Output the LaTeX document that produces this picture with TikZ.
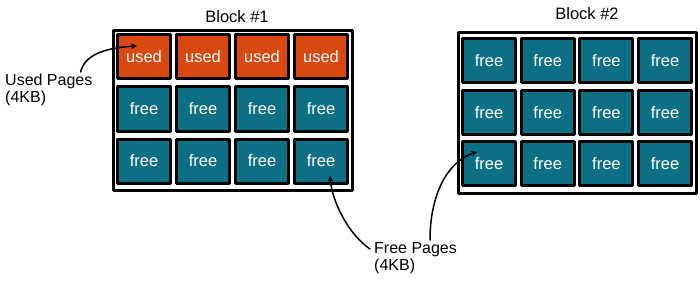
\documentclass[tikz,border=0pt]{standalone}
\usepackage{fontspec}
\setmainfont{Liberation Sans}
\definecolor{usedcol}{HTML}{D9480F}
\definecolor{freecol}{HTML}{0C7085}
\tikzset{
  page/.style={draw=black, line width=3pt, fill=freecol, text=white, minimum width=53pt, minimum height=44pt, font=\fontsize{16.5}{18}\selectfont},
  usedpage/.style={page, fill=usedcol},
  blockframe/.style={draw=black, line width=3pt, fill=white},
  note/.style={align=left, inner sep=0pt, font=\fontsize{16}{17}\selectfont},
}
\begin{document}
\begin{tikzpicture}[x=1pt, y=-1pt, >=stealth, line cap=round, line join=round]
  \useasboundingbox (0,0) rectangle (700,286);

  % Block #1
  \node[font=\fontsize{16.5}{18}\selectfont] (title1) at (237,17) {Block \#1};
  \draw[blockframe] (113,31) rectangle (352,190);
  \foreach \c in {1,...,4} {
    \node[usedpage] (b1-1-\c) at ({144+59*(\c-1)},57) {used};
    \foreach \r in {2,3} {
      \node[page] (b1-\r-\c) at ({144+59*(\c-1)},{57+52*(\r-1)}) {free};
    }
  }

  % Block #2
  \node[font=\fontsize{16.5}{18}\selectfont] (title2) at (587,14) {Block \#2};
  \draw[blockframe] (458,33) rectangle (696,193);
  \foreach \c in {1,...,4} {
    \foreach \r in {1,2,3} {
      \node[page] (b2-\r-\c) at ({489+58.7*(\c-1)},{60.5+51.7*(\r-1)}) {free};
    }
  }

  % labels
  \node[note, anchor=north west] (usedlbl) at (5,74) {Used Pages\\(4KB)};
  \node[note, anchor=north west] (freelbl) at (374,242) {Free Pages\\(4KB)};

  % arrows
  \draw[->, line width=1.5pt] ([shift={(-12,-2)}]usedlbl.north east)
    .. controls +(4,-16) and +(-35,2) .. ([shift={(-7,-11)}]b1-1-1.center);
  \draw[->, line width=1.5pt] ([shift={(-4,7)}]freelbl.north west)
    .. controls +(-22,-15) and +(2,25) .. ([shift={(9,15)}]b1-3-4.center);
  \draw[->, line width=1.5pt] ([shift={(56,-2)}]freelbl.north west)
    .. controls +(0,-45) and +(-30,10) .. ([shift={(-12,-12)}]b2-3-1.center);
\end{tikzpicture}
\end{document}
